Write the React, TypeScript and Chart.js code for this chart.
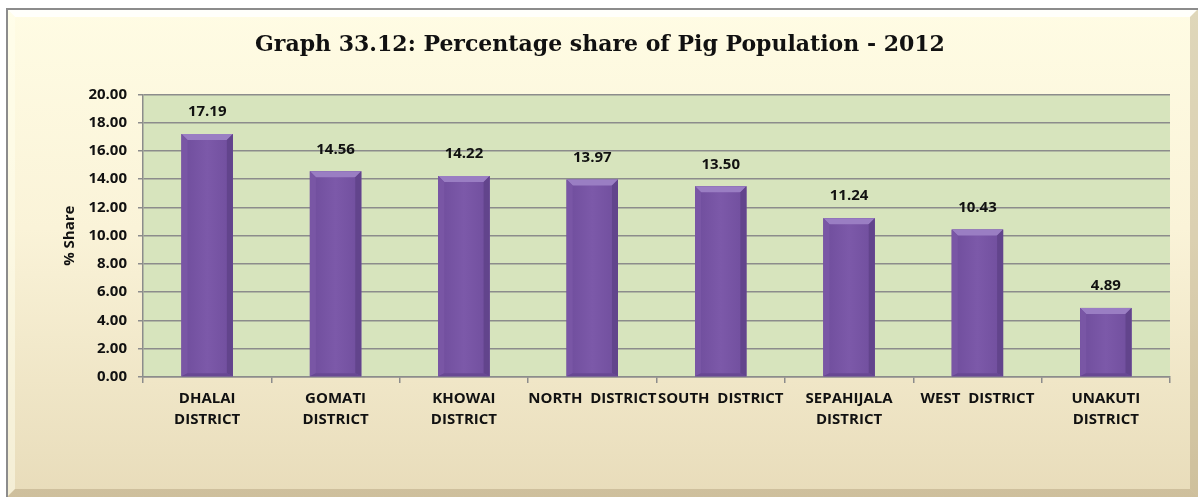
import React, { useEffect, useRef } from "react";
import { Chart, registerables } from "chart.js";

Chart.register(...registerables);

const categories: (string | string[])[] = [
  ["DHALAI", "DISTRICT"],
  ["GOMATI", "DISTRICT"],
  ["KHOWAI", "DISTRICT"],
  "NORTH  DISTRICT",
  "SOUTH  DISTRICT",
  ["SEPAHIJALA", "DISTRICT"],
  "WEST  DISTRICT",
  ["UNAKUTI", "DISTRICT"],
];
const shareValues: number[] = [17.19, 14.56, 14.22, 13.97, 13.5, 11.24, 10.43, 4.89];
const yTicks: number[] = [0, 2, 4, 6, 8, 10, 12, 14, 16, 18, 20];
const titleText = "Graph 33.12: Percentage share of Pig Population - 2012";
const yAxisTitle = "% Share";

const FONT = "'Open Sans', 'Liberation Sans', sans-serif";

const framePlugin = {
  id: "frame",
  beforeDraw(chart: any) {
    const { ctx, chartArea } = chart;
    ctx.save();
    const x0 = 7, y0 = 9, x1 = 1198, y1 = 497;
    const b = 8;
    const g = ctx.createLinearGradient(0, y0, 0, y1);
    g.addColorStop(0, "#fffce4");
    g.addColorStop(0.45, "#faf3d8");
    g.addColorStop(1, "#e8dcba");
    ctx.fillStyle = g;
    ctx.fillRect(x0, y0, x1 - x0, y1 - y0);
    // top bevel (light)
    ctx.fillStyle = "rgba(255,255,255,0.85)";
    ctx.beginPath();
    ctx.moveTo(x0, y0); ctx.lineTo(x1, y0); ctx.lineTo(x1 - b, y0 + b); ctx.lineTo(x0 + b, y0 + b);
    ctx.closePath(); ctx.fill();
    // left bevel
    ctx.fillStyle = "rgba(255,255,240,0.5)";
    ctx.beginPath();
    ctx.moveTo(x0, y0); ctx.lineTo(x0 + b, y0 + b); ctx.lineTo(x0 + b, y1 - b); ctx.lineTo(x0, y1);
    ctx.closePath(); ctx.fill();
    // right bevel (dark)
    ctx.fillStyle = "rgba(150,130,90,0.3)";
    ctx.beginPath();
    ctx.moveTo(x1, y0); ctx.lineTo(x1 - b, y0 + b); ctx.lineTo(x1 - b, y1 - b); ctx.lineTo(x1, y1);
    ctx.closePath(); ctx.fill();
    // bottom bevel (darker)
    ctx.fillStyle = "rgba(140,120,80,0.28)";
    ctx.beginPath();
    ctx.moveTo(x0, y1); ctx.lineTo(x0 + b, y1 - b); ctx.lineTo(x1 - b, y1 - b); ctx.lineTo(x1, y1);
    ctx.closePath(); ctx.fill();
    // outer border top & left
    ctx.strokeStyle = "#8c8c8c";
    ctx.lineWidth = 2;
    ctx.beginPath();
    ctx.moveTo(x0, y1); ctx.lineTo(x0, y0); ctx.lineTo(x1, y0);
    ctx.stroke();
    // plot area
    ctx.fillStyle = "#d7e4bd";
    ctx.fillRect(chartArea.left, chartArea.top, chartArea.right - chartArea.left, chartArea.bottom - chartArea.top);
    ctx.restore();
  },
};

const barStylePlugin = {
  id: "barStyle",
  afterDatasetsDraw(chart: any) {
    const { ctx } = chart;
    const meta = chart.getDatasetMeta(0);
    const ds = chart.data.datasets[0];
    ctx.save();
    meta.data.forEach((bar: any, i: number) => {
      const w = bar.width;
      const xl = bar.x - w / 2;
      const xr = bar.x + w / 2;
      const yt = bar.y;
      const yb = bar.base;
      const b = 6;
      const fg = ctx.createLinearGradient(xl, 0, xr, 0);
      fg.addColorStop(0, "#6f4d9c");
      fg.addColorStop(0.5, "#7c59a9");
      fg.addColorStop(1, "#704e9d");
      ctx.fillStyle = fg;
      ctx.fillRect(xl, yt, w, yb - yt);
      // top bevel
      ctx.fillStyle = "#9a7ec3";
      ctx.beginPath();
      ctx.moveTo(xl, yt); ctx.lineTo(xr, yt); ctx.lineTo(xr - b, yt + b); ctx.lineTo(xl + b, yt + b);
      ctx.closePath(); ctx.fill();
      // left bevel
      ctx.fillStyle = "#7956a5";
      ctx.beginPath();
      ctx.moveTo(xl, yt); ctx.lineTo(xl + b, yt + b); ctx.lineTo(xl + b, yb - 3); ctx.lineTo(xl, yb);
      ctx.closePath(); ctx.fill();
      // right bevel
      ctx.fillStyle = "#62448c";
      ctx.beginPath();
      ctx.moveTo(xr, yt); ctx.lineTo(xr - b, yt + b); ctx.lineTo(xr - b, yb - 3); ctx.lineTo(xr, yb);
      ctx.closePath(); ctx.fill();
      // bottom bevel
      ctx.fillStyle = "#684893";
      ctx.beginPath();
      ctx.moveTo(xl, yb); ctx.lineTo(xl + b, yb - 3); ctx.lineTo(xr - b, yb - 3); ctx.lineTo(xr, yb);
      ctx.closePath(); ctx.fill();
      // value label
      ctx.fillStyle = "#111111";
      ctx.font = `bold 15px ${FONT}`;
      ctx.textAlign = "center";
      ctx.textBaseline = "middle";
      ctx.fillText(Number(ds.data[i]).toFixed(2), bar.x, yt - 22);
    });
    ctx.restore();
  },
};

export default function App() {
  const ref = useRef<HTMLCanvasElement | null>(null);
  useEffect(() => {
    if (!ref.current) return;
    const chart = new Chart(ref.current, {
      type: "bar",
      data: {
        labels: categories,
        datasets: [
          {
            data: shareValues,
            backgroundColor: "#7653a2",
            borderWidth: 0,
            barPercentage: 0.4,
            categoryPercentage: 1,
          },
        ],
      },
      plugins: [framePlugin, barStylePlugin],
      options: {
        responsive: false,
        animation: false,
        layout: { padding: { left: 30, right: 30, top: 0, bottom: 62 } },
        plugins: {
          legend: { display: false },
          tooltip: { enabled: false },
          title: {
            display: true,
            text: titleText,
            color: "#111111",
            font: { family: "Georgia, 'DejaVu Serif', serif", size: 22, weight: "bold", lineHeight: 1.2 },
            padding: { top: 32, bottom: 36 },
          },
        },
        scales: {
          x: {
            grid: {
              display: true,
              offset: true,
              drawOnChartArea: false,
              drawTicks: true,
              tickLength: 6,
              color: "#8c8c8c",
              lineWidth: 1.5,
            },
            border: { display: true, color: "#8c8c8c", width: 1.5 },
            ticks: {
              autoSkip: false,
              maxRotation: 0,
              minRotation: 0,
              padding: 5,
              color: "#111111",
              font: { family: FONT, size: 15, weight: "bold", lineHeight: 1.4 },
            },
          },
          y: {
            min: 0,
            max: 20,
            afterFit(scale: any) {
              scale.width = 113;
            },
            afterBuildTicks(scale: any) {
              scale.ticks = yTicks.map((v) => ({ value: v }));
            },
            grid: {
              color: "#8c8c8c",
              lineWidth: 1.5,
              drawTicks: true,
              tickLength: 5,
            },
            border: { display: true, color: "#8c8c8c", width: 1.5 },
            ticks: {
              padding: 11,
              color: "#111111",
              font: { family: FONT, size: 15, weight: "bold" },
              callback: (v: any) => Number(v).toFixed(2),
            },
            title: {
              display: true,
              text: yAxisTitle,
              color: "#111111",
              font: { family: FONT, size: 15, weight: "bold", lineHeight: 1.2 },
              padding: { top: 31, bottom: 4 },
            },
          },
        },
      },
    });
    return () => chart.destroy();
  }, []);
  return (
    <div style={{ position: "fixed", left: 0, top: 0, width: 1200, height: 497, background: "#ffffff" }}>
      <canvas ref={ref} width={1200} height={497} style={{ width: 1200, height: 497 }} />
    </div>
  );
}
